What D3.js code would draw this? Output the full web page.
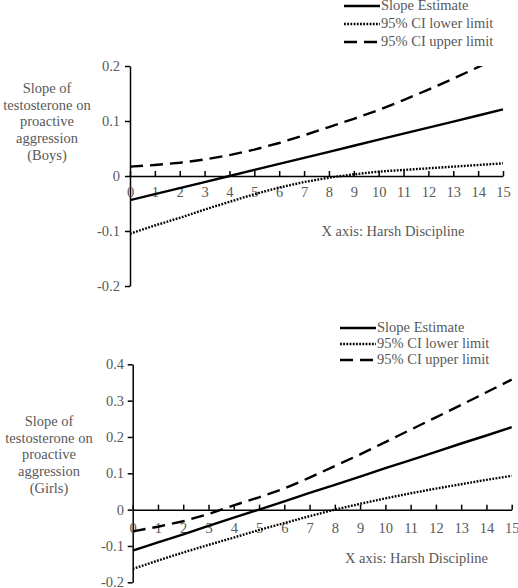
<!DOCTYPE html>
<html><head><meta charset="utf-8">
<script src="https://cdn.jsdelivr.net/npm/d3@7"></script>
<style>
html,body{margin:0;padding:0;background:#fff;}
svg text{font-family:"Liberation Serif","Times New Roman",Times,"DejaVu Serif",serif !important;}
</style></head>
<body><svg id="c" width="518" height="588"></svg>
<script>
const xValues = [0,1,2,3,4,5,6,7,8,9,10,11,12,13,14,15];
const xTickLabels = ["0","1","2","3","4","5","6","7","8","9","10","11","12","13","14","15"];
const seriesNames = ["Slope Estimate","95% CI lower limit","95% CI upper limit"];

// Boys panel
const boysSlope = [-0.044,-0.033,-0.022,-0.011,0.000,0.011,0.022,0.033,0.044,0.055,0.066,0.077,0.088,0.099,0.110,0.121];
const boysLower = [-0.105,-0.090,-0.076,-0.061,-0.047,-0.033,-0.021,-0.011,-0.003,0.003,0.008,0.011,0.014,0.017,0.020,0.023];
const boysUpper = [0.017,0.020,0.024,0.030,0.038,0.048,0.060,0.074,0.089,0.104,0.120,0.138,0.157,0.177,0.198,0.220];
const boysYTicks = [-0.2,-0.1,0,0.1,0.2];
const boysYTickLabels = ["-0.2","-0.1","0","0.1","0.2"];
const boysTitle = ["Slope of","testosterone on","proactive","aggression","(Boys)"];

// Girls panel
const girlsSlope = [-0.113,-0.090,-0.068,-0.045,-0.022,0.000,0.023,0.046,0.068,0.091,0.114,0.136,0.159,0.182,0.204,0.227];
const girlsLower = [-0.163,-0.140,-0.118,-0.097,-0.077,-0.056,-0.037,-0.018,0.000,0.016,0.031,0.045,0.058,0.070,0.082,0.093];
const girlsUpper = [-0.060,-0.047,-0.032,-0.012,0.012,0.034,0.058,0.088,0.120,0.152,0.186,0.220,0.254,0.288,0.323,0.358];
const girlsYTicks = [-0.2,-0.1,0,0.1,0.2,0.3,0.4];
const girlsYTickLabels = ["-0.2","-0.1","0","0.1","0.2","0.3","0.4"];
const girlsTitle = ["Slope of","testosterone on","proactive","aggression","(Girls)"];

const xAxisTitle = "X axis: Harsh Discipline";

const svg = d3.select("#c");
const textColor = "#595959";
const FS = 14.5;
const FONT = "Liberation Serif, Times New Roman, Times, DejaVu Serif, serif";
const styles = [
  {dash: null},
  {dash: "1.8,1.4"},
  {dash: "13,7"}
];

function panel(o, id) {
  const x = d3.scaleLinear().domain([0,15]).range([o.x0, o.x1]);
  const y = d3.scaleLinear().domain([o.ymin, o.ymax]).range([o.y0, o.y1]);
  const g = svg.append("g").attr("font-family", FONT);

  svg.append("defs").append("clipPath").attr("id","clip"+id)
    .append("rect").attr("x", o.x0).attr("y", y(o.ymax)).attr("width", o.x1-o.x0+2).attr("height", y(o.ymin)-y(o.ymax));

  const ya = d3.axisLeft(y).tickValues(o.yTicks).tickFormat((d,i)=>o.yTickLabels[i]).tickSize(5).tickSizeOuter(0).tickPadding(o.yPad);
  const yg = g.append("g").attr("transform",`translate(${o.x0},0)`).call(ya);
  const xa = d3.axisBottom(x).tickValues(xValues).tickFormat((d,i)=>xTickLabels[i]).tickSize(-5).tickSizeOuter(0).tickPadding(o.xPad);
  const xg = g.append("g").attr("transform",`translate(0,${y(0)})`).call(xa);
  [yg,xg].forEach(a=>{
    a.attr("font-family", FONT);
    a.select(".domain").attr("stroke","#000").attr("stroke-width",1.5);
    a.selectAll(".tick line").attr("stroke","#000").attr("stroke-width",1.5);
    a.selectAll(".tick text").attr("fill",textColor).attr("font-size",FS);
  });

  const line = d3.line().x((d,i)=>x(xValues[i])).y(d=>y(d));
  const series = [o.slope, o.lower, o.upper];
  series.forEach((s,k)=>{
    g.append("path").attr("d", line(s)).attr("fill","none").attr("stroke","#000")
      .attr("stroke-width",2.4).attr("stroke-dasharray", styles[k].dash)
      .attr("clip-path",`url(#clip${id})`);
  });

  seriesNames.forEach((n,k)=>{
    const yy = o.legY + k*o.legStep;
    g.append("line").attr("x1",o.legX).attr("x2",o.legX+36).attr("y1",yy-4).attr("y2",yy-4)
      .attr("stroke","#000").attr("stroke-width",2.4).attr("stroke-dasharray", styles[k].dash);
    g.append("text").attr("x",o.legX+37).attr("y",yy).attr("font-size",FS).attr("fill",textColor).text(n);
  });

  o.title.forEach((t,k)=>{
    g.append("text").attr("x",o.titleX).attr("y",o.titleY+k*16.7).attr("text-anchor","middle")
      .attr("font-size",FS).attr("fill",textColor).text(t);
  });

  g.append("text").attr("x",o.xtX).attr("y",o.xtY).attr("text-anchor","middle")
    .attr("font-size",FS).attr("fill",textColor).text(xAxisTitle);
}

panel({x0:130,x1:503,y0:286,y1:66,ymin:-0.2,ymax:0.2,yTicks:boysYTicks,yTickLabels:boysYTickLabels,
  slope:boysSlope,lower:boysLower,upper:boysUpper,yPad:5,xPad:11,
  legX:344,legY:10,legStep:18,title:boysTitle,titleX:47,titleY:93,xtX:393,xtY:236},1);

panel({x0:132.7,x1:511.7,y0:582.3,y1:364.3,ymin:-0.2,ymax:0.4,yTicks:girlsYTicks,yTickLabels:girlsYTickLabels,
  slope:girlsSlope,lower:girlsLower,upper:girlsUpper,yPad:3.7,xPad:12.8,
  legX:340,legY:332,legStep:16,title:girlsTitle,titleX:49,titleY:426,xtX:416.5,xtY:563.3},2);
</script></body></html>
